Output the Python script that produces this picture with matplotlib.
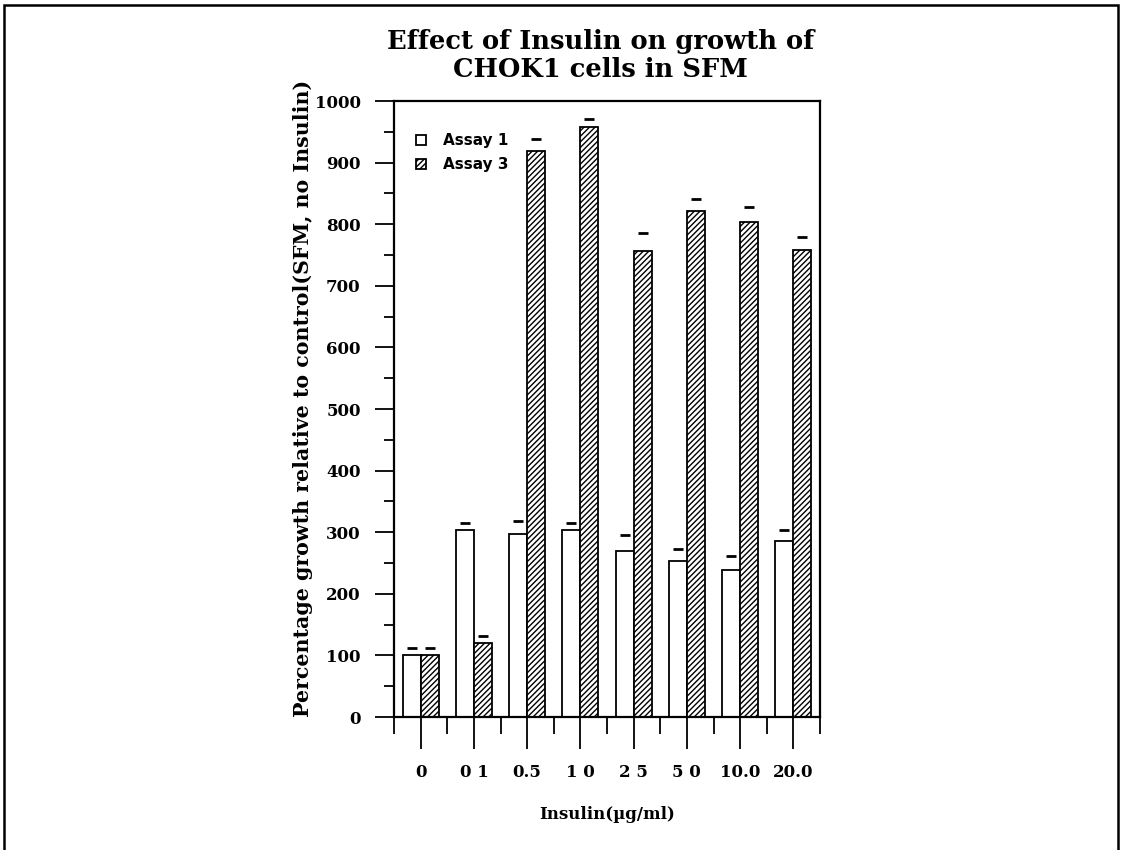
import matplotlib.pyplot as plt
import numpy as np
from matplotlib.patches import Rectangle

# data
doses = ['0', '0 1', '0.5', '1 0', '2 5', '5 0', '10.0', '20.0']
assay1 = [100, 304, 297, 304, 269, 253, 238, 285]
assay1_err = [12, 11, 21, 11, 26, 19, 23, 19]
assay3 = [100, 120, 919, 957, 757, 822, 804, 758]
assay3_err = [12, 12, 20, 13, 28, 19, 24, 21]

plt.rcParams['hatch.linewidth'] = 1.0
serif = ['DejaVu Serif']

fig = plt.figure(figsize=[11.23, 8.5], dpi=100)
ax = fig.add_axes([394/1123, 1-717/850, 426/1123, 616/850])

x = np.arange(len(doses)) + 0.5
w = 0.34
ax.bar(x - w/2, assay1, w, color='white', edgecolor='black', linewidth=1.3, label='Assay 1')
ax.bar(x + w/2, assay3, w, color='white', edgecolor='black', linewidth=1.3,
       hatch='//////', label='Assay 3')
# only the upper caps of the error bars are shown
ax.scatter(x - w/2, np.array(assay1) + np.array(assay1_err), marker='_', s=45,
           color='black', linewidths=2, zorder=5)
ax.scatter(x + w/2, np.array(assay3) + np.array(assay3_err), marker='_', s=45,
           color='black', linewidths=2, zorder=5)

ax.set_xlim(0, 8)
ax.set_ylim(0, 1000)
ax.set_yticks(np.arange(0, 1001, 100))
ax.set_yticks(np.arange(50, 1000, 100), minor=True)
ax.set_xticks(x)
ax.set_xticks(np.arange(0, 9), minor=True)
ax.set_xticklabels(doses, fontfamily=serif, fontweight='bold', fontsize=12)
for lab in ax.get_yticklabels():
    lab.set_fontfamily(serif)
    lab.set_fontweight('bold')
    lab.set_fontsize(12)
ax.tick_params(axis='x', which='major', length=23, width=1.3, pad=11)
ax.tick_params(axis='x', which='minor', length=12, width=1.3)
ax.tick_params(axis='y', which='major', length=14, width=1.3, pad=10)
ax.tick_params(axis='y', which='minor', length=7, width=1.3)
for s in ax.spines.values():
    s.set_linewidth(1.6)

ax.set_xlabel('Insulin(\u00b5g/ml)', fontfamily=serif, fontweight='bold', fontsize=12, labelpad=18)
ax.set_ylabel('Percentage growth relative to control(SFM, no Insulin)', fontfamily=serif,
              fontweight='bold', fontsize=14.8)
ax.yaxis.set_label_coords(-0.19, 0.518)
ax.set_title('Effect of Insulin on growth of\nCHOK1 cells in SFM', fontfamily=serif,
             fontweight='bold', fontsize=18.5, linespacing=1.15, pad=17, x=0.485)

leg = ax.legend(loc='upper left', bbox_to_anchor=(0.02, 0.97), frameon=False,
                prop={'weight': 'bold', 'size': 11}, handlelength=0.65, handleheight=0.65,
                handletextpad=1.1, labelspacing=0.6)

# page border of the scan
fig.patches.append(Rectangle((4/1123, -0.05), 1114/1123, 1.05 - 5/850, transform=fig.transFigure,
                             fill=False, edgecolor='black', linewidth=1.8))

plt.savefig('out.png', dpi=100)
